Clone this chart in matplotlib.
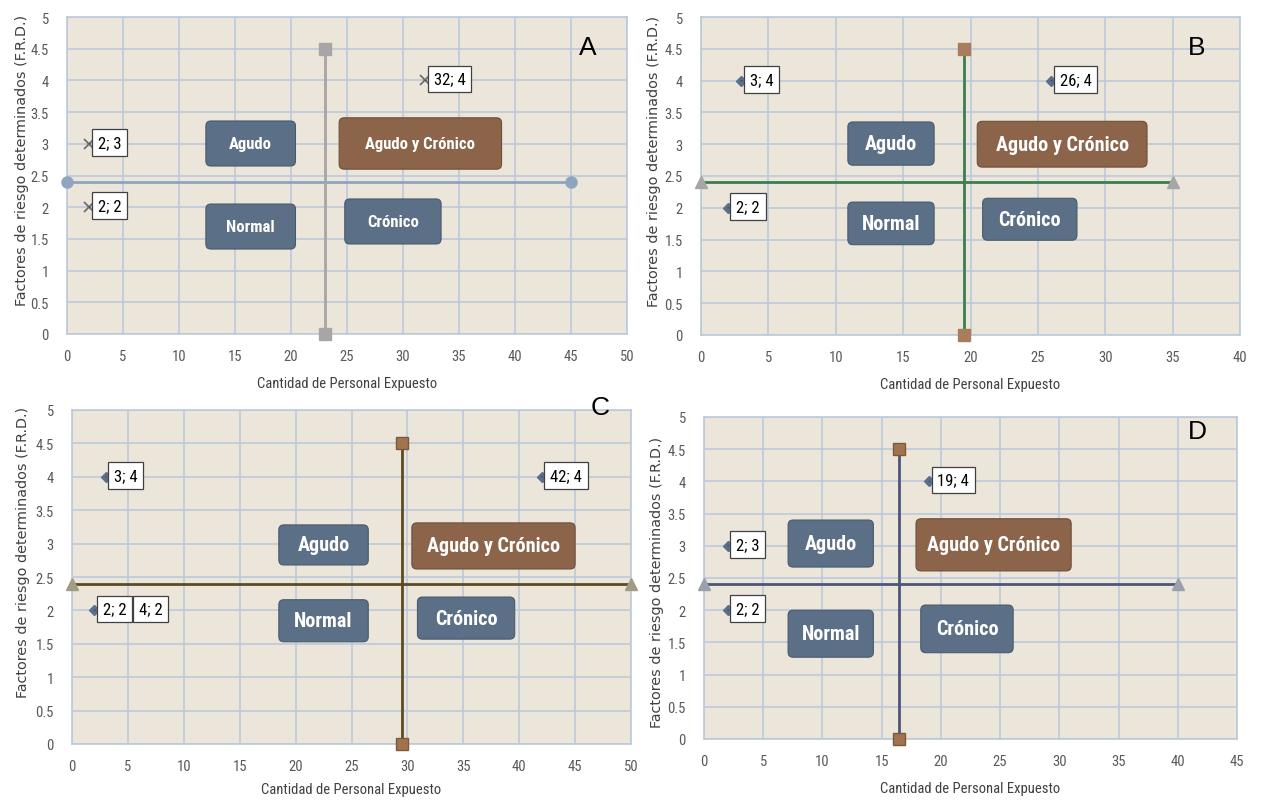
import matplotlib
matplotlib.use('Agg')
import matplotlib.pyplot as plt
from matplotlib.patches import FancyBboxPatch

plt.rcParams['font.family'] = ['Roboto Condensed', 'DejaVu Sans']

# data
letters = ['A', 'B', 'C', 'D']
x_max = [50, 40, 50, 45]
pts_x = [[2, 2, 32], [3, 2, 26], [3, 2, 4, 42], [2, 2, 19]]
pts_y = [[3, 2, 4], [4, 2, 4], [4, 2, 2, 4], [3, 2, 4]]
h_y = [2.4, 2.4, 2.4, 2.4]
h_x = [[0, 45], [0, 35], [0, 50], [0, 40]]
v_x = [23, 19.5, 29.5, 16.5]
v_y = [0, 4.5]
quad_names = ['Agudo', 'Agudo y Crónico', 'Normal', 'Crónico']
# box extents per panel: (x0, x1, y0, y1) for each quadrant name
quad_boxes = [
    [(12.4, 20.4, 2.65, 3.36), (24.3, 38.8, 2.6, 3.41), (12.4, 20.4, 1.34, 2.05), (24.8, 33.4, 1.42, 2.13)],
    [(10.9, 17.3, 2.67, 3.35), (20.5, 33.1, 2.64, 3.36), (10.9, 17.3, 1.42, 2.09), (20.9, 27.9, 1.49, 2.15)],
    [(18.5, 26.5, 2.68, 3.28), (30.4, 45.0, 2.62, 3.31), (18.5, 26.5, 1.53, 2.16), (30.9, 39.6, 1.57, 2.2)],
    [(7.1, 14.3, 2.67, 3.4), (17.9, 31.0, 2.61, 3.42), (7.1, 14.3, 1.27, 2.0), (18.3, 26.1, 1.34, 2.08)],
]

# styles
h_color = ['#8FA4BE', '#3B7D52', '#5C4A22', '#4A5878']
h_mark = ['o', '^', '^', '^']
h_mcol = ['#8FA4BE', '#A6A6A6', '#A39C84', '#9BA1AA']
v_color = ['#A6A6A6', '#3B7D52', '#5C4A22', '#4A5878']
v_mcol = ['#A6A6A6', '#A97C5B', '#A3734F', '#A3734F']
pt_mark = ['x', 'D', 'D', 'D']
pt_col = ['#6E6E6E', '#5A6F8F', '#5A6F8F', '#5A6F8F']
box_font = [12, 14.5, 14.5, 14.5]
# label offsets in points (the 4; 2 label in C sits further right, over the 2; 2 one)
lab_dx = [[6, 6, 6], [6, 6, 6], [6, 6, 16, 6], [6, 6, 6]]
ylab_xy = [(-0.067, 0.55), (-0.074, 0.55), (-0.075, 0.578), (-0.075, 0.49)]
xlab_pad = [9, 9, 6, 9]

# axes rectangles in pixels: left, top, right, bottom
rects = [(67, 18, 627, 335), (701, 18, 1240, 336), (72, 411, 631, 745), (704, 418, 1237, 740)]
letter_pos = [(588, 48), (1197, 48), (600, 408), (1197, 432)]

W, H = 1261, 803
fig = plt.figure(figsize=(W / 100, H / 100), dpi=100)

for i in range(4):
    l, t, r, b = rects[i]
    ax = fig.add_axes([l / W, 1 - b / H, (r - l) / W, (b - t) / H])
    ax.set_facecolor('#ECE6DA')
    ax.set_xlim(0, x_max[i])
    ax.set_ylim(0, 5)
    ax.set_xticks(range(0, x_max[i] + 1, 5))
    ax.set_yticks([0, 0.5, 1, 1.5, 2, 2.5, 3, 3.5, 4, 4.5, 5])
    ax.set_yticklabels(['0', '0.5', '1', '1.5', '2', '2.5', '3', '3.5', '4', '4.5', '5'])
    ax.grid(True, color='#BCCADA', linewidth=1.2)
    ax.set_axisbelow(True)
    for s in ax.spines.values():
        s.set_color('#BCCADA')
        s.set_linewidth(1.2)
    ax.tick_params(length=0, labelsize=10.5, colors='#595959', pad=11)
    ax.tick_params(axis='y', pad=13)
    ax.set_xlabel('Cantidad de Personal Expuesto', fontsize=10.5, color='#404040',
                  labelpad=xlab_pad[i])
    ax.set_ylabel('Factores de riesgo determinados (F.R.D.)', fontsize=10.4, color='#404040',
                  family='DejaVu Sans')
    ax.yaxis.set_label_coords(*ylab_xy[i])

    # reference lines
    ax.plot(h_x[i], [h_y[i], h_y[i]], color=h_color[i], lw=2, zorder=3)
    ax.plot(h_x[i], [h_y[i], h_y[i]], ls='none', marker=h_mark[i], ms=8,
            color=h_mcol[i], clip_on=False, zorder=4)
    ax.plot([v_x[i], v_x[i]], v_y, color=v_color[i], lw=2, zorder=3)
    ax.plot([v_x[i], v_x[i]], v_y, ls='none', marker='s', ms=8, color=v_mcol[i],
            mec='#7A5A3A' if i >= 2 else v_mcol[i], clip_on=False, zorder=4)

    # quadrant boxes
    px_x = (r - l) / x_max[i]
    px_y = (b - t) / 5
    for k, name in enumerate(quad_names):
        x0, x1, y0, y1 = quad_boxes[i][k]
        fc = '#8B644A' if name == 'Agudo y Crónico' else '#5B6F87'
        patch = FancyBboxPatch((x0, y0), x1 - x0, y1 - y0,
                               boxstyle='round,pad=0,rounding_size=%f' % (5 / px_x),
                               mutation_aspect=px_x / px_y,
                               fc=fc, ec='#4A5A6E' if fc == '#5B6F87' else '#6E4F3A',
                               lw=0.8, zorder=5)
        ax.add_patch(patch)
        ax.text((x0 + x1) / 2, (y0 + y1) / 2, name, color='white', fontsize=box_font[i],
                fontweight='bold', ha='center', va='center', zorder=6)

    # points and labels
    ax.plot(pts_x[i], pts_y[i], ls='none', marker=pt_mark[i],
            ms=7 if pt_mark[i] == 'x' else 5, mew=1.3 if pt_mark[i] == 'x' else 1,
            color=pt_col[i], zorder=7)
    for j, (x, y) in enumerate(zip(pts_x[i], pts_y[i])):
        arrow = None
        if lab_dx[i][j] < 10:
            arrow = dict(arrowstyle='-', color='#404040', lw=0.8, shrinkA=1, shrinkB=2)
        ax.annotate('%d; %d' % (x, y), (x, y), xytext=(lab_dx[i][j], 1), textcoords='offset points',
                    fontsize=12, color='black', va='center', ha='left', zorder=8 + j,
                    bbox=dict(boxstyle='square,pad=0.35', fc='white', ec='#404040', lw=0.9),
                    arrowprops=arrow)

    fig.text(letter_pos[i][0] / W, 1 - letter_pos[i][1] / H, letters[i],
             fontsize=19, family='Liberation Sans', ha='center', va='center')

fig.savefig('out.png', dpi=100)
